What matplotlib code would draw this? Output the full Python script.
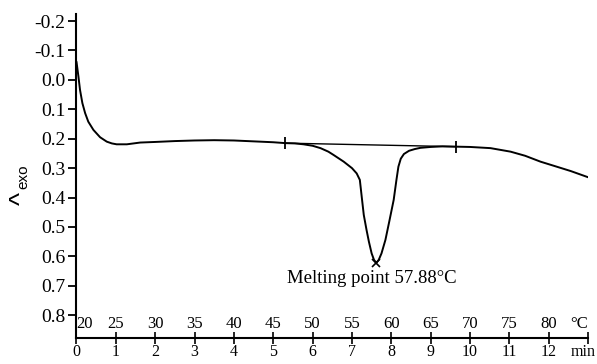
import matplotlib
matplotlib.use("Agg")
import matplotlib.pyplot as plt
import matplotlib.transforms as mtransforms

plt.rcParams['axes.unicode_minus'] = False
plt.rcParams['font.family'] = ['Liberation Serif', 'DejaVu Serif']

# ---- data ----
time_min = [0.0, 0.05, 0.09, 0.15, 0.22, 0.30, 0.43, 0.60, 0.77, 0.90, 1.02, 1.28,
            1.62, 2.0, 2.5, 3.0, 3.5, 4.0, 4.67, 5.0, 5.31, 5.55, 5.77, 6.0, 6.20,
            6.40, 6.53, 6.79, 7.00, 7.12, 7.20, 7.25, 7.30, 7.37, 7.43, 7.50, 7.56,
            7.62, 7.68, 7.75, 7.85, 7.95, 8.06, 8.13, 8.18, 8.24, 8.32, 8.45, 8.60,
            8.74, 9.0, 9.30, 9.65, 10.0, 10.52, 11.03, 11.40, 11.79, 12.20, 12.56, 13.0]
signal = [-0.062, -0.011, 0.034, 0.079, 0.113, 0.142, 0.170, 0.195, 0.210, 0.216, 0.219, 0.219,
          0.213, 0.211, 0.208, 0.206, 0.205, 0.206, 0.210, 0.212, 0.215, 0.216, 0.219, 0.224, 0.232,
          0.244, 0.255, 0.278, 0.300, 0.318, 0.340, 0.400, 0.459, 0.510, 0.550, 0.590, 0.612,
          0.622, 0.612, 0.590, 0.544, 0.480, 0.408, 0.340, 0.295, 0.268, 0.252, 0.241, 0.235,
          0.231, 0.228, 0.226, 0.227, 0.228, 0.232, 0.244, 0.258, 0.278, 0.295, 0.310, 0.331]

baseline_t = [5.31, 9.65]
baseline_v = [0.215, 0.227]

peak_t = 7.62
peak_v = 0.622
peak_label = "Melting point 57.88°C"

time_ticks = [0, 1, 2, 3, 4, 5, 6, 7, 8, 9, 10, 11, 12]
temp_labels = ["20", "25", "30", "35", "40", "45", "50", "55", "60", "65", "70", "75", "80"]
y_ticks = [-0.2, -0.1, 0.0, 0.1, 0.2, 0.3, 0.4, 0.5, 0.6, 0.7, 0.8]

# ---- figure ----
fig = plt.figure(figsize=(5.97, 3.64), dpi=100)
ax = fig.add_axes([0.1281, 0.0714, 0.857, 0.8901])

ax.plot(time_min, signal, color='black', lw=1.4, solid_capstyle='round', solid_joinstyle='round')
ax.plot(baseline_t, baseline_v, color='black', lw=1.0)
ax.plot(baseline_t, baseline_v, linestyle='none', marker='|', ms=8, mew=1.3, color='black')
ax.plot([peak_t], [peak_v], linestyle='none', marker='x', ms=6, mew=1.2, color='black')
ax.text(peak_t - 0.12, peak_v + 0.025, peak_label, ha='center', va='top', fontsize=13.5)

ax.set_xlim(0, 13)
ax.set_ylim(0.8776, -0.224)

for s in ['top', 'right']:
    ax.spines[s].set_visible(False)
for s in ['left', 'bottom']:
    ax.spines[s].set_linewidth(1.5)

ax.set_yticks(y_ticks)
ax.set_yticklabels([f"{v:.1f}" for v in y_ticks])
ax.tick_params(axis='y', direction='out', length=6, width=1.3, pad=2, labelsize=14)

ax.set_xticks(time_ticks + [13])
ax.set_xticklabels([str(t) for t in time_ticks] + [""])
ax.tick_params(axis='x', direction='inout', length=8.5, width=1.2, pad=0, labelsize=11.5)

# temperature labels above the axis line
trans = mtransforms.blended_transform_factory(ax.transData, ax.transAxes)
off = mtransforms.offset_copy(trans, fig=fig, x=0, y=4.5, units='points')
for i, (t, lab) in enumerate(zip(time_ticks, temp_labels)):
    if i == 0:
        ax.text(t, 0, lab, transform=off, ha='left', va='bottom', fontsize=12)
    else:
        ax.text(t, 0, lab, transform=off, ha='center', va='bottom', fontsize=12)
ax.text(13, 0, "°C", transform=off, ha='right', va='bottom', fontsize=12)
off2 = mtransforms.offset_copy(trans, fig=fig, x=0, y=-4.3, units='points')
ax.text(12.87, 0, "min", transform=off2, ha='center', va='top', fontsize=11.5)

# y label "^exo"
fig.text(0.036, 0.455, "^", rotation=90, ha='center', va='center', fontsize=20,
         family=['Liberation Sans', 'DejaVu Sans'])
fig.text(0.039, 0.515, "exo", rotation=90, ha='center', va='center', fontsize=11,
         family=['Liberation Sans', 'DejaVu Sans'])

fig.savefig("out.png", dpi=100)
